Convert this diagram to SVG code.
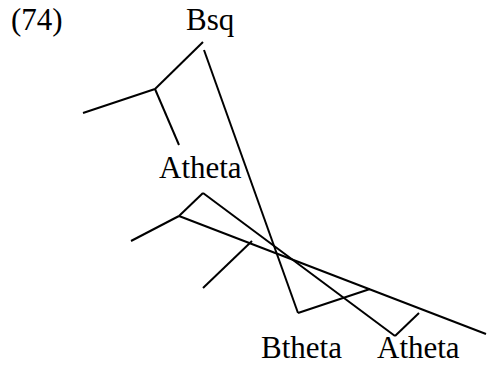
<svg xmlns="http://www.w3.org/2000/svg" width="487" height="367" viewBox="0 0 487 367">
<style>
.t{font-family:"Liberation Serif","Times New Roman",serif;font-size:31px;fill:#000}
.l{stroke:#000;stroke-width:2;fill:none;stroke-linecap:butt}
</style>
<rect width="487" height="367" fill="#fff"/>
<text class="t" x="11" y="30">(74)</text>
<g id="n-bsq"><text class="t" x="186" y="30">Bsq</text></g>
<g id="n-atheta1"><text class="t" x="159" y="178">Atheta</text></g>
<g id="n-btheta"><text class="t" x="261" y="358">Btheta</text></g>
<g id="n-atheta2"><text class="t" x="377" y="358">Atheta</text></g>
<g id="connectors">
<line class="l" x1="203" y1="42" x2="155" y2="89"/>
<line class="l" x1="155" y1="89" x2="83" y2="113"/>
<line class="l" x1="155" y1="89" x2="179" y2="145"/>
<line class="l" x1="204" y1="50" x2="298" y2="313"/>
<line class="l" x1="298" y1="313" x2="370" y2="289"/>
<line class="l" x1="179" y1="216" x2="203" y2="193"/>
<line class="l" x1="203" y1="193" x2="395" y2="336"/>
<line class="l" x1="395" y1="336" x2="419" y2="313"/>
<line class="l" x1="179" y1="216" x2="131" y2="241"/>
<line class="l" x1="179" y1="216" x2="486" y2="334"/>
<line class="l" x1="252" y1="241" x2="203" y2="288"/>
</g>
</svg>
